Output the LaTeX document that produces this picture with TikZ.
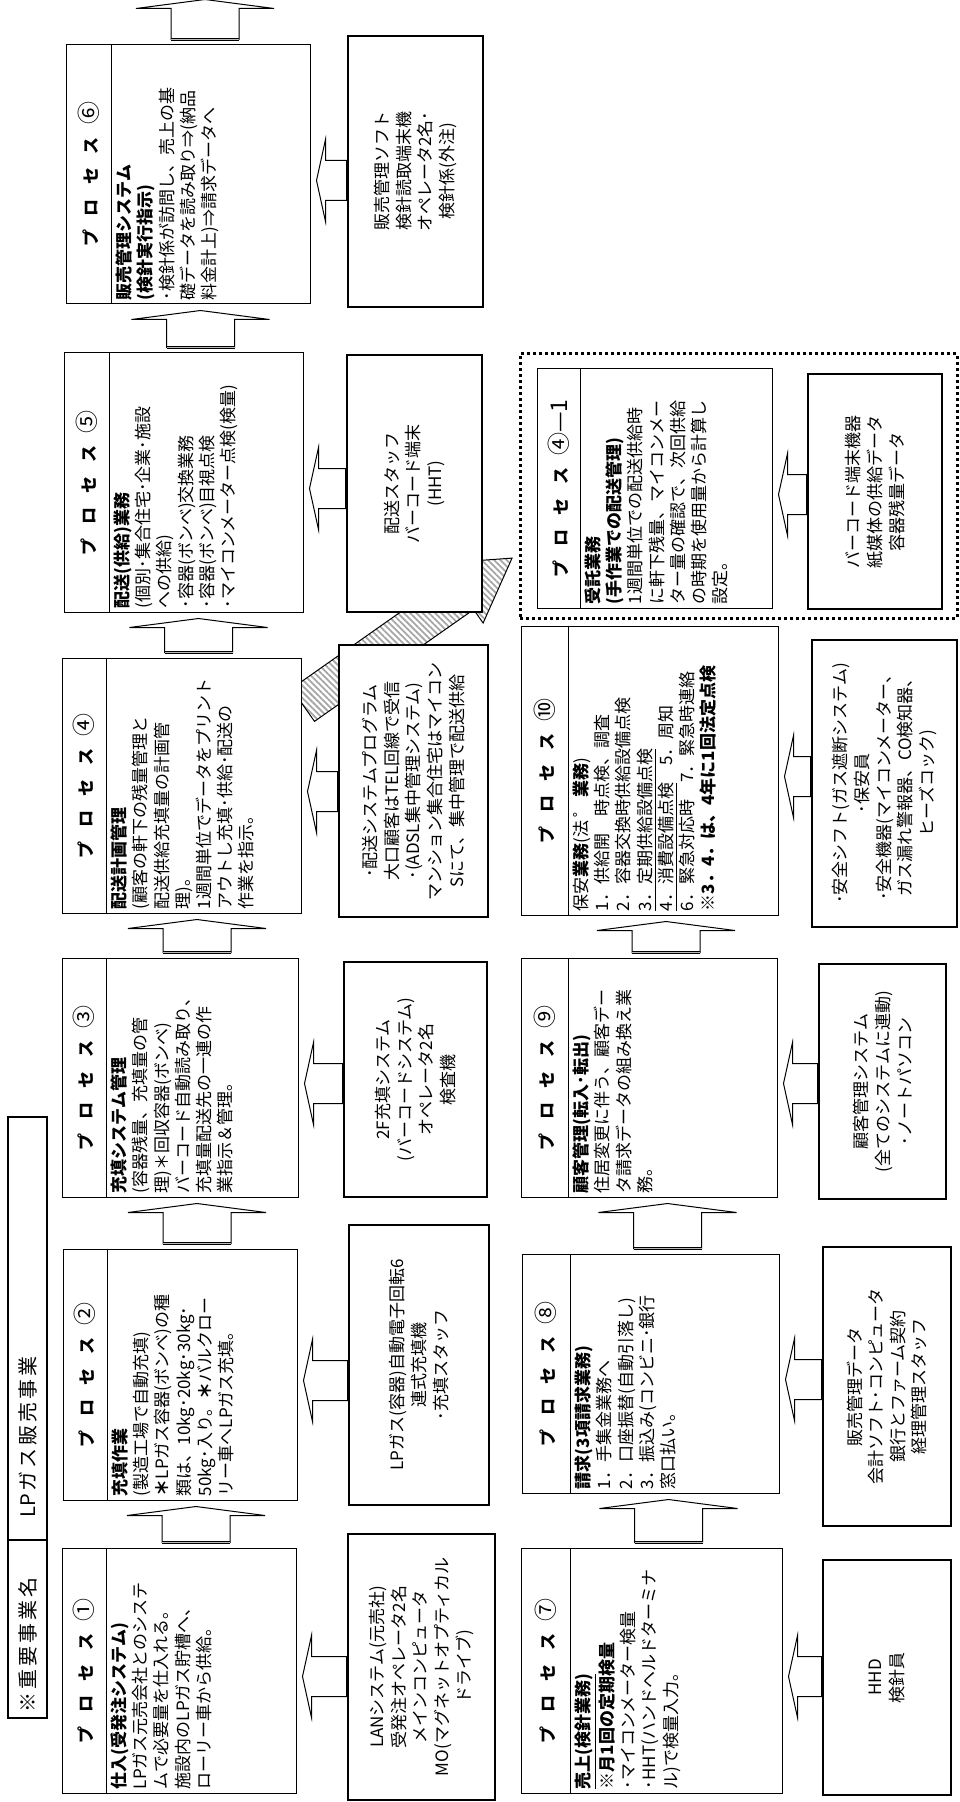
\documentclass[tikz,border=0pt]{standalone}
\usepackage{fontspec}
\setmainfont{Noto Sans CJK JP}
\usetikzlibrary{calc,fit,patterns.meta,backgrounds}

\tikzset{
  procbox/.style={draw, line width=0.5pt, fill=white, inner sep=0pt},
  supbox/.style={draw, line width=1.3pt, fill=white, inner sep=0pt},
  hdrbox/.style={draw, line width=1pt, inner sep=0pt},
  grpbox/.style={draw, line width=1.5pt, dash pattern=on 1.5pt off 1.5pt, inner sep=0pt},
  titletext/.style={rotate=90, inner sep=0pt, font=\fontsize{8.5}{10}\selectfont\bfseries},
  bodytext/.style={rotate=90, anchor=north west, align=left, inner sep=0pt, font=\fontsize{8.5}{10.6}\selectfont},
  suptext/.style={rotate=90, align=center, inner sep=0pt, font=\fontsize{8.5}{10.8}\selectfont},
  hdrtext/.style={rotate=90, anchor=west, inner sep=0pt, font=\fontsize{10}{12}\selectfont},
  blockarrow/.style={draw, line width=0.5pt, fill=white},
  arrowfoot/.style={line width=0.45pt, double=gray!55, double distance=0.8pt},
  hatcharrow/.style={draw, line width=0.5pt, pattern={Lines[angle=-45, distance=2.2pt, line width=0.9pt]}, pattern color=gray!70}
}

\newcommand{\ptitle}[1]{プ\hspace{7pt}ロ\hspace{7pt}セ\hspace{7pt}ス\hspace{6pt}{\mdseries\fontsize{11.5}{11}\selectfont #1}}
\newcommand{\process}[7]{%
  \node[procbox, fit={(#2,#3)(#4,#5)}] (#1) {};
  \draw[line width=0.5pt] ($(#1.north west)+(#6,0)$) -- ($(#1.south west)+(#6,0)$);
  \node[titletext] (#1-title) at ($(#1.west)+(#6/2,0)$) {\ptitle{#7}};}
\newcommand{\support}[6]{%
  \node[supbox, fit={(#2,#3)(#4,#5)}] (#1) {};
  \node[suptext] (#1-text) at (#1.center) {#6};}
\newcommand{\flowup}[2]{%
  \draw[blockarrow] let \p1=($#1+(17,-5)$), \p2=($#2+(17,6)$) in
    (\x1-17pt,\y1) -- (\x1-17pt,\y2-4.5pt) -- (\x1-34.5pt,\y2-4.5pt) -- (\x1,\y2)
    -- (\x1+34.5pt,\y2-4.5pt) -- (\x1+17pt,\y2-4.5pt) -- (\x1+17pt,\y1) -- cycle;
  \draw[arrowfoot] let \p1=($#1+(17,-5)$) in (\x1-17pt,\y1) -- (\x1+17pt,\y1);}
\newcommand{\flowleft}[2]{%
  \draw[blockarrow] let \p1=#1, \p2=($#2+(6,6)$) in
    (\x1,\y2+10pt) -- (\x2+4.5pt,\y2+10pt) -- (\x2+4.5pt,\y2+20.5pt) -- (\x2,\y2)
    -- (\x2+4.5pt,\y2-20.5pt) -- (\x2+4.5pt,\y2-10pt) -- (\x1,\y2-10pt) -- cycle;}

\begin{document}
\begin{tikzpicture}[x=0.5pt, y=-0.5pt]
\useasboundingbox (0,0) rectangle (959,1802);

% header
\node[hdrbox, fit={(8,1540)(47,1718)}] (hdr-key) {};
\node[hdrbox, fit={(8,1117)(47,1540)}] (hdr-val) {};
\node[hdrtext] (hdr-key-text) at (27.5,1713) {※\kern1.5pt 重\kern1.5pt 要\kern1.5pt 事\kern1.5pt 業\kern1.5pt 名};
\node[hdrtext] (hdr-val-text) at (27.5,1518) {LP\kern1.5pt ガ\kern1.5pt ス\kern1.5pt 販\kern1.5pt 売\kern1.5pt 事\kern1.5pt 業};

% upper row
\process{p1}{62}{1548}{296}{1793}{45}{①}
\node[bodytext] (p1-body) at ($(p1.south west)+(49,-4)$) {\textbf{仕入(受発注システム)}\\
LPガス元売会社とのシステ\\ムで必要量を仕入れる。\\施設内のLPガス貯槽へ、\\ローリー車から供給。};
\process{p2}{63}{1249}{297}{1500}{45}{②}
\node[bodytext] (p2-body) at ($(p2.south west)+(49,-4)$) {\textbf{充填作業}\\
(製造工場で自動充填)\\\textbf{＊}LPガス容器(ボンベ)の種\\類は、10kg･20kg･30kg･\\50kg･入り。\textbf{＊}バルクロー\\リー車へLPガス充填。};
\process{p3}{62}{958}{298}{1197}{45}{③}
\node[bodytext] (p3-body) at ($(p3.south west)+(49,-4)$) {\textbf{充填システム管理}\\
(容器残量、充填量の管\\理)＊回収容器(ボンベ)\\バーコード自動読み取り、\\充填量配送先の一連の作\\業指示＆管理。};
\process{p4}{62}{658}{301}{913}{45}{④}
\node[bodytext] (p4-body) at ($(p4.south west)+(49,-4)$) {\textbf{配送計画管理}\\
(顧客の軒下の残量管理と\\配送供給充填量の計画管\\理)。\\1週間単位でデータをプリント\\アウトし充填･供給･配送の\\作業を指示。};
\process{p5}{64}{353}{303}{612}{46}{⑤}
\node[bodytext] (p5-body) at ($(p5.south west)+(50,-4)$) {\textbf{配送(供給)業務}\\
(個別･集合住宅･企業･施設\\への供給)\\･容器(ボンベ)交換業務\\･容器(ボンベ)目視点検\\･マイコンメーター点検(検量)};
\process{p6}{66}{45}{310}{304}{46}{⑥}
\node[bodytext] (p6-body) at ($(p6.south west)+(50,-4)$) {\textbf{販売管理システム}\\
\textbf{(検針実行指示)}\\･検針係が訪問し、売上の基\\礎データを読み取り⇒(納品\\料金計上)⇒請求データへ};

\support{s1}{348}{1534}{495}{1800}{LANシステム(元売社)\\受発注オペレータ2名\\メインコンピュータ\\MO(マグネットオプティカル\\ドライブ)}
\support{s2}{349}{1225}{489}{1505}{LPガス(容器)自動電子回転6\\連式充填機\\･充填スタッフ}
\support{s3}{344}{962}{487}{1197}{2F充填システム\\(バーコードシステム)\\オペレータ2名\\検査機}
\support{s4}{339}{645}{488}{917}{･配送システムプログラム\\大口顧客はTEL回線で受信\\･(ADSL集中管理システム)\\マンション集合住宅はマイコン\\Sにて、集中管理で配送供給}
\support{s5}{347}{355}{482}{612}{配送スタッフ\\バーコード端末\\(HHT)}
\support{s6}{348}{36}{483}{307}{販売管理ソフト\\検針読取端末機\\オペレータ2名･\\検針係(外注)}

% lower row
\process{p7}{521}{1548}{782}{1793}{50}{⑦}
\node[bodytext] (p7-body) at ($(p7.south west)+(54,-4)$) {\textbf{\underline{売上(検針業務)}}\\
\textbf{※月1回の定期検量}\\･マイコンメーター検量\\･HHT(ハンドヘルドターミナ\\ル)で検量入力。};
\process{p8}{522}{1254}{779}{1493}{49}{⑧}
\node[bodytext] (p8-body) at ($(p8.south west)+(53,-4)$) {\textbf{請求(3項請求業務)}\\
1．手集金業務へ\\2．口座振替(自動引落し)\\3．振込み(コンビニ･銀行\\窓口払い。};
\process{p9}{521}{958}{777}{1197}{48}{⑨}
\node[bodytext] (p9-body) at ($(p9.south west)+(52,-4)$) {\textbf{顧客管理(転入･転出)}\\
住居変更に伴う、顧客デー\\タ請求データの組み換え業\\務。};
\process{p10}{521}{626}{778}{915}{48}{⑩}
\node[bodytext] (p10-body) at ($(p10.south west)+(52,-4)$) {保安\textbf{業務}(法\,゜\,\textbf{業務})\\
1．供給開　時点検、調査\\2．容器交換時供給設備点検\\\underline{3．定期供給設備点検}\\\underline{4．消費設備点検}　5．周知\\6．緊急対応時　7．緊急時連絡\\\textbf{※3．4．は、4年に1回法定点検}};

\node[grpbox, fit={(520,354)(957,618)}] (g41) {};
\process{p41}{537}{369}{772}{608}{44}{④—1}
\node[bodytext] (p41-body) at ($(p41.south west)+(48,-4)$) {\textbf{受託業務}\\
\textbf{(手作業での配送管理)}\\1週間単位での配送供給時\\に軒下残量、マイコンメー\\ター量の確認で、次回供給\\の時期を使用量から計算し\\設定。};

\support{s7}{823}{1560}{951}{1795}{HHD\\検針員}
\support{s8}{823}{1247}{951}{1526}{販売管理データ\\会計ソフト･コンピュータ\\銀行とファーム契約\\経理管理スタッフ}
\support{s9}{819}{964}{946}{1199}{顧客管理システム\\(全てのシステムに連動)\\･ノートパソコン}
\support{s10}{812}{640}{957}{927}{･安全シフト(ガス遮断システム)\\･保安員\\･安全機器(マイコンメーター、\\ガス漏れ警報器、CO検知器、\\ヒーズコック)}
\support{s41}{808}{374}{942}{609}{バーコード端末機器\\紙媒体の供給データ\\容器残量データ}

\path (p6.north) ++(0,-51) coordinate (p6-out);
\coordinate (hatch-tail) at (303,705);
\coordinate (hatch-tip) at (512,558);

\begin{pgfonlayer}{background}
\draw[hatcharrow, shift={(hatch-tail)}, rotate=35.1]
  (0,-20) -- (194.5,-20) -- (194.5,-36.5) -- (255.5,0) -- (194.5,36.5) -- (194.5,20) -- (0,20) -- cycle;
\flowup{(p1.north)}{(p2.south)}
\flowup{(p2.north)}{(p3.south)}
\flowup{(p3.north)}{(p4.south)}
\flowup{(p4.north)}{(p5.south)}
\flowup{(p5.north)}{(p6.south)}
\flowup{(p6.north)}{(p6-out)}
\flowup{(p7.north)}{(p8.south)}
\flowup{(p8.north)}{(p9.south)}
\flowup{(p9.north)}{(p10.south)}
\flowleft{(s1.west)}{(p1.east)}
\flowleft{(s2.west)}{(p2.east)}
\flowleft{(s3.west)}{(p3.east)}
\flowleft{(s4.west)}{(p4.east)}
\flowleft{(s5.west)}{(p5.east)}
\flowleft{(s6.west)}{(p6.east)}
\flowleft{(s7.west)}{(p7.east)}
\flowleft{(s8.west)}{(p8.east)}
\flowleft{(s9.west)}{(p9.east)}
\flowleft{(s10.west)}{(p10.east)}
\flowleft{(s41.west)}{(p41.east)}
\end{pgfonlayer}
\end{tikzpicture}
\end{document}
